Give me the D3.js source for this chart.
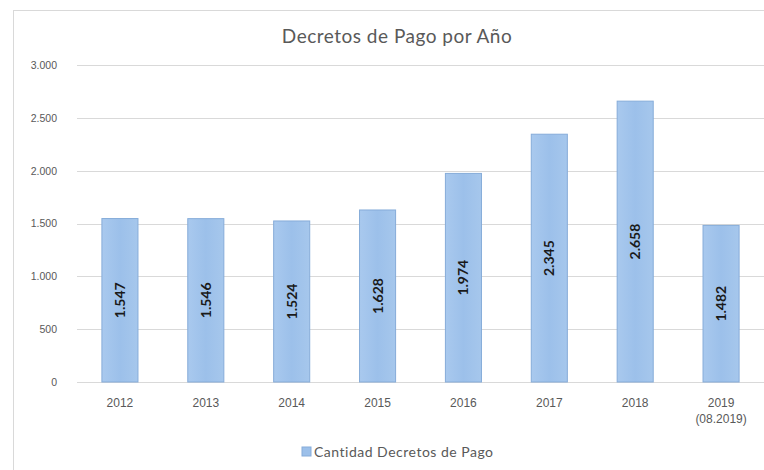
<!DOCTYPE html>
<html><head><meta charset="utf-8">
<script src="https://cdn.jsdelivr.net/npm/d3@7"></script>
<style>body{margin:0;background:#fff;}svg{display:block;font-family:Lato,"Open Sans",sans-serif;}</style>
</head><body>
<svg id="c" width="764" height="470"></svg>
<script>
const categories = ["2012","2013","2014","2015","2016","2017","2018","2019 (08.2019)"];
const values = [1547,1546,1524,1628,1974,2345,2658,1482];
const valueLabels = ["1.547","1.546","1.524","1.628","1.974","2.345","2.658","1.482"];
const yTicks = [0,500,1000,1500,2000,2500,3000];
const yTickLabels = ["0","500","1.000","1.500","2.000","2.500","3.000"];
const title = "Decretos de Pago por Año";
const seriesName = "Cantidad Decretos de Pago";

const svg = d3.select("#c");
const defs = svg.append("defs");
const g = defs.append("linearGradient").attr("id","bg").attr("x1","0").attr("x2","1").attr("y1","0").attr("y2","0");
g.append("stop").attr("offset","0").attr("stop-color","#a9c9ee");
g.append("stop").attr("offset","0.5").attr("stop-color","#9cc0ea");
g.append("stop").attr("offset","1").attr("stop-color","#a6c7ec");

// outer frame
svg.append("rect").attr("x",13.5).attr("y",10.5).attr("width",770).attr("height",480)
  .attr("fill","none").attr("stroke","#d9d9d9");

const x = d3.scaleBand().domain(categories).range([77,764]).paddingInner(0.58).paddingOuter(0.29);
const y = d3.scaleLinear().domain([0,3000]).range([382,65]);

// gridlines
svg.append("g").selectAll("line").data(yTicks).join("line")
  .attr("x1",77).attr("x2",764).attr("y1",d=>Math.round(y(d))+0.5).attr("y2",d=>Math.round(y(d))+0.5)
  .attr("stroke","#d9d9d9").attr("stroke-width",1);

// y axis labels
const yAxis = d3.axisLeft(y).tickValues(yTicks).tickFormat((d,i)=>yTickLabels[i]).tickSize(0).tickPadding(0);
const ya = svg.append("g").attr("transform","translate(57,0)").call(yAxis);
ya.select(".domain").remove();
ya.selectAll("text").attr("fill","#595959").attr("font-size",10.5);

// bars
svg.append("g").selectAll("rect").data(values).join("rect")
  .attr("x",(d,i)=>x(categories[i])).attr("width",x.bandwidth())
  .attr("y",d=>y(d)).attr("height",d=>y(0)-y(d))
  .attr("fill","url(#bg)").attr("stroke","#86acd9").attr("stroke-width",1);

// value labels
svg.append("g").selectAll("text").data(values).join("text")
  .attr("transform",(d,i)=>`translate(${x(categories[i])+x.bandwidth()/2+5},${(y(d)+y(0))/2}) rotate(-90)`)
  .attr("text-anchor","middle").attr("font-size",14).attr("font-weight","bold").attr("fill","#1a1a1a")
  .text((d,i)=>valueLabels[i]);

// x axis
const xAxis = d3.axisBottom(x).tickSize(0).tickPadding(0).tickFormat("");
const xa = svg.append("g").attr("transform","translate(0,382)").call(xAxis);
xa.select(".domain").remove();
xa.selectAll(".tick").each(function(d){
  const parts = d.split(" ");
  const t = d3.select(this).append("text").attr("fill","#595959").attr("font-size",12).attr("text-anchor","middle");
  parts.forEach((p,i)=>t.append("tspan").attr("x",0).attr("y",25+i*16).text(p));
});

// title
svg.append("text").attr("x",397).attr("y",43).attr("text-anchor","middle")
  .attr("font-size",19).attr("letter-spacing",0.5).attr("fill","#595959").text(title);

// legend
const lg = svg.append("g").attr("transform","translate(302,447)");
lg.append("rect").attr("width",9).attr("height",9).attr("fill","#9cc0ea").attr("stroke","#86acd9");
lg.append("text").attr("x",12).attr("y",10).attr("font-size",14).attr("letter-spacing",0.5).attr("fill","#595959").text(seriesName);
</script>
</body></html>
